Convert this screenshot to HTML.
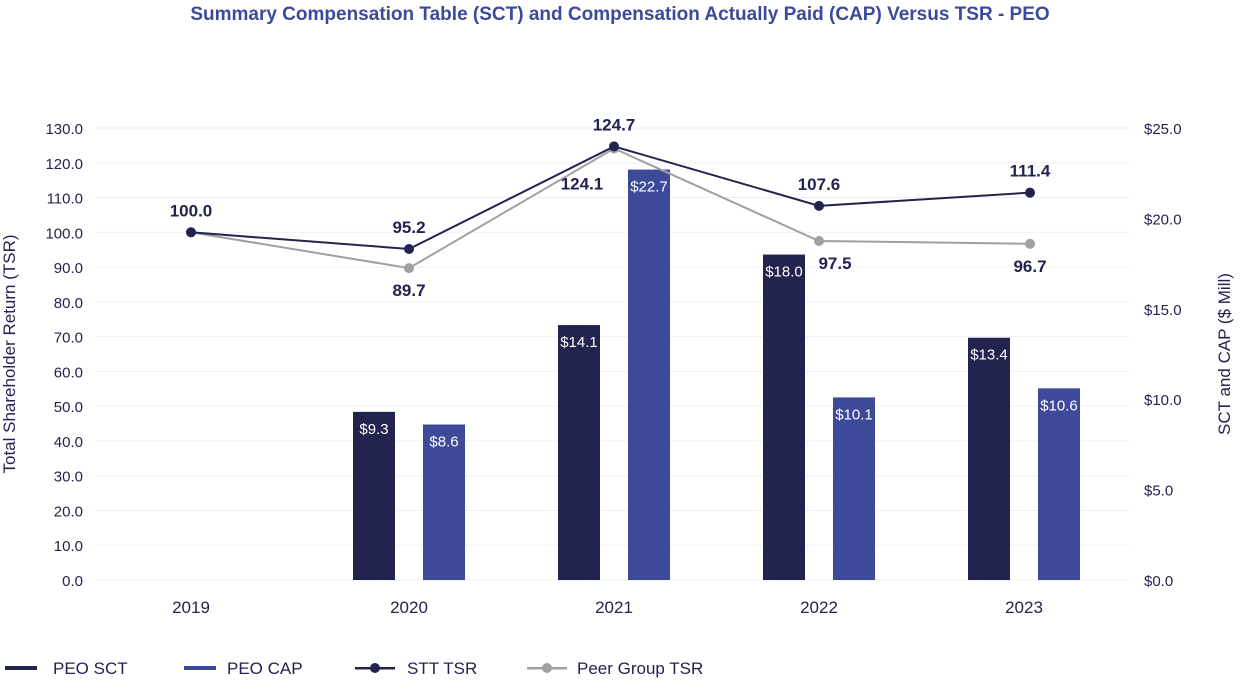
<!DOCTYPE html>
<html><head><meta charset="utf-8">
<style>
body{margin:0;background:#fff;width:1240px;height:684px;overflow:hidden;font-family:"Liberation Sans",sans-serif;}
svg text{font-family:"Liberation Sans",sans-serif;}
</style></head>
<body>
<svg id="chart" width="1240" height="684" xmlns="http://www.w3.org/2000/svg">
<text x="620" y="20" text-anchor="middle" font-size="19" font-weight="bold" fill="#3d4a9a">Summary Compensation Table (SCT) and Compensation Actually Paid (CAP) Versus TSR - PEO</text>
<g id="grid"></g><g id="bars"></g><g id="lines"></g><g id="axes"></g>
<text transform="translate(15,354) rotate(-90)" text-anchor="middle" font-size="17" fill="#23234f">Total Shareholder Return (TSR)</text>
<text transform="translate(1230,354) rotate(-90)" text-anchor="middle" font-size="17" fill="#23234f">SCT and CAP ($ Mill)</text>
<g font-size="17" fill="#23234f">
<g><rect x="5" y="666" width="32" height="4" fill="#23234f"/><text x="53" y="674">PEO SCT</text></g>
<g><rect x="184" y="666" width="32" height="4" fill="#3d4a9a"/><text x="227" y="674">PEO CAP</text></g>
<g><rect x="355" y="667" width="40" height="2.5" fill="#23234f"/><circle cx="375" cy="668" r="5" fill="#23234f"/><text x="407" y="674">STT TSR</text></g>
<g><rect x="527" y="667" width="40" height="2.5" fill="#a0a0a0"/><circle cx="547" cy="668" r="5" fill="#a0a0a0"/><text x="577" y="674">Peer Group TSR</text></g>
</g>
</svg>
<script>
const years=["2019","2020","2021","2022","2023"];
const sct=[null,9.3,14.1,18.0,13.4];
const cap=[null,8.6,22.7,10.1,10.6];
const sttTsr=[100.0,95.2,124.7,107.6,111.4];
const peerTsr=[100.0,89.7,124.1,97.5,96.7];
const leftTicks=[0,10,20,30,40,50,60,70,80,90,100,110,120,130];
const rightTicks=[0,5,10,15,20,25];
const NS="http://www.w3.org/2000/svg";
const y0=580,yTop=128;
const yL=v=>y0-(v/130)*(y0-yTop);
const yR=v=>y0-(v/25)*(y0-yTop);
const xC=i=>204+205*i;
function mk(tag,attrs,parent,txt){const e=document.createElementNS(NS,tag);for(const k in attrs)e.setAttribute(k,attrs[k]);if(txt!==undefined)e.textContent=txt;document.getElementById(parent).appendChild(e);return e;}
leftTicks.forEach(t=>{
  const g=mk('line',{x1:95,x2:1130,y1:yL(t),y2:yL(t),stroke:'#eef0f5','stroke-width':1},'grid');
  
  
  const l=mk('text',{x:83,y:yL(t)+6,'text-anchor':'end','font-size':15,fill:'#23234f'},'axes',t.toFixed(1));
  
  
});
rightTicks.forEach(t=>{
  const l=mk('text',{x:1144,y:yR(t)+6,'font-size':15,fill:'#23234f'},'axes','$'+t.toFixed(1));
  
  
});
years.forEach((yr,i)=>{
  const l=mk('text',{x:(i==0?191:xC(i)),y:613,'text-anchor':'middle','font-size':17,fill:'#23234f'},'axes',yr);
  
  
});
function bars(arr,off,color,name){
  arr.forEach((v,i)=>{if(v==null)return;
    const x=xC(i)+off-21;
    const r=mk('rect',{x:x,y:yR(v),width:42,height:y0-yR(v),fill:color},'bars');
    
    
    const t=mk('text',{x:x+21,y:yR(v)+22,'text-anchor':'middle','font-size':15,fill:'#fff'},'bars','$'+v.toFixed(1));
    
    
  });
}
bars(sct,-35,'#23234f','peo-sct');
bars(cap,35,'#3d4a9a','peo-cap');
function line(arr,color,name,above){
  const px=i=>i==0?191:xC(i)+(i==4?6:0);
  const p=mk('polyline',{points:arr.map((v,i)=>px(i)+','+yL(v)).join(' '),fill:'none',stroke:color,'stroke-width':2},'lines');
  
  
  arr.forEach((v,i)=>{
    const c=mk('circle',{cx:px(i),cy:yL(v),r:5,fill:color},'lines');
    
    
    if(!above&&i==0)return;
    let lx=px(i),ly=above?yL(v)-16:yL(v)+28;
    if(!above&&i==2){lx=px(i)-32;ly=yL(v)+41;}
    if(!above&&i==3){lx=px(i)+16;}
    const t=mk('text',{x:lx,y:ly,'text-anchor':'middle','font-size':17,'font-weight':'bold',fill:'#23234f'},'lines',v.toFixed(1));
    
    
  });
}
line(peerTsr,'#a0a0a0','peer-tsr',false);
line(sttTsr,'#23234f','stt-tsr',true);
</script>
</body></html>
